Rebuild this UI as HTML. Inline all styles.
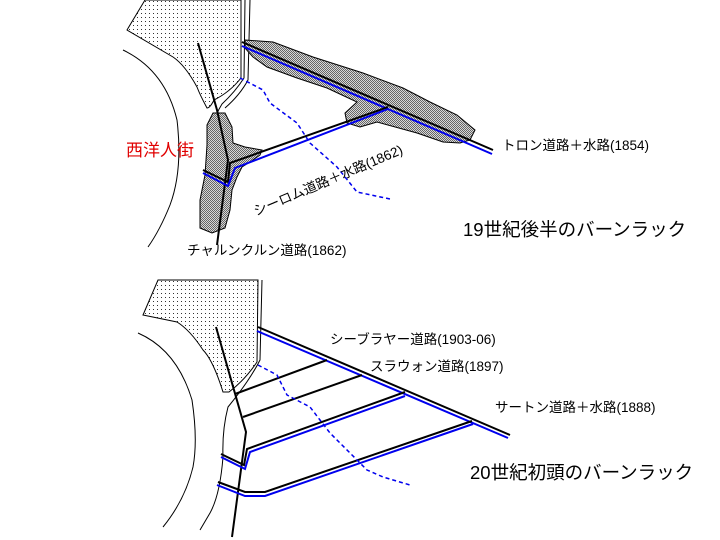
<!DOCTYPE html>
<html><head><meta charset="utf-8"><style>
html,body{margin:0;padding:0;background:#fff;}
svg{display:block;}
text{font-family:"Liberation Sans","Noto Sans CJK JP",sans-serif;}
</style></head><body>
<svg width="720" height="540" viewBox="0 0 720 540" xmlns="http://www.w3.org/2000/svg">
<defs>
<pattern id="dots" width="4" height="4" patternUnits="userSpaceOnUse"><rect x="1" y="1" width="1" height="1" fill="#333" shape-rendering="crispEdges"/></pattern>
<pattern id="hatch" width="2" height="2" patternUnits="userSpaceOnUse"><rect width="2" height="2" fill="#d8d8d8"/><rect width="1" height="1" fill="#666"/><rect x="1" y="1" width="1" height="1" fill="#666"/></pattern>
</defs>
<!-- TOP -->
<path d="M127,30 L145,0 L241,0 L241,78 Q230,92 214,100 Q210,108 207,108 Q200,95 197,87 Q185,65 173,57 Z" fill="url(#dots)" stroke="#000" stroke-width="1"/>
<path d="M123,50 Q165,70 177,120 Q183,170 170,205 Q160,230 148,247" fill="none" stroke="#000"/>
<path d="M245,0 L244,78 Q235,92 222,104 Q212,120 210,140" fill="none" stroke="#000"/>
<path d="M250,0 L248,80 Q240,95 225,108" fill="none" stroke="#000"/>
<polygon points="245,40 273,42 313,57 363,73 403,88 430,102 457,115 475,130 470,140 460,143 443,142 417,133 377,122 360,127 347,123 345,113 357,102 327,88 297,78 267,67 253,57 245,48" fill="url(#hatch)" stroke="#000"/>
<polygon points="213,113 225,113 232,127 233,143 245,147 262,150 260,155 250,162 242,167 237,177 232,190 230,210 225,228 212,233 200,228 200,200 205,175 207,145 207,125" fill="url(#hatch)" stroke="#000"/>
<polyline points="198,43 217,110 228,160 217,245" fill="none" stroke="#000" stroke-width="2"/>
<line x1="242" y1="42" x2="493" y2="150" stroke="#000" stroke-width="2"/>
<line x1="242" y1="46" x2="492" y2="154" stroke="#0000ee" stroke-width="2"/>
<polyline points="203,170 228,182 230,163 388,107" fill="none" stroke="#000" stroke-width="2"/>
<polyline points="203,173 228,186 235,168 388,109" fill="none" stroke="#0000ee" stroke-width="2"/>
<polyline points="240,78 263,90 270,103 297,123 310,143 337,167 357,192 390,199" fill="none" stroke="#0000ee" stroke-width="1.5" stroke-dasharray="4,3"/>
<text x="126" y="156" font-size="17" fill="#e00000">西洋人街</text>
<text x="502" y="150" font-size="13.5">トロン道路＋水路(1854)</text>
<text transform="translate(256,216) rotate(-23)" font-size="13.5">シーロム道路＋水路(1862)</text>
<text x="463" y="236" font-size="18.5">19世紀後半のバーンラック</text>
<text x="187" y="255" font-size="13.5">チャルンクルン道路(1862)</text>
<!-- BOTTOM -->
<path d="M143,315 L158,280 L258,280 L257,362 Q245,380 229,392 L223,392 Q213,360 203,350 Q190,330 177,322 Z" fill="url(#dots)" stroke="#000"/>
<path d="M138,333 Q177,350 192,400 Q198,440 193,467 Q185,500 163,527" fill="none" stroke="#000"/>
<path d="M262,280 L260,360 Q250,380 228,407 Q222,430 223,457 Q220,495 210,513 L200,530" fill="none" stroke="#000"/>
<polyline points="216,327 246,432 232,537" fill="none" stroke="#000" stroke-width="2"/>
<line x1="258" y1="327" x2="510" y2="435" stroke="#000" stroke-width="2"/>
<line x1="257" y1="331" x2="508" y2="438" stroke="#0000ee" stroke-width="2"/>
<line x1="235" y1="394" x2="327" y2="360" stroke="#000" stroke-width="2"/>
<line x1="243" y1="417" x2="362" y2="375" stroke="#000" stroke-width="2"/>
<polyline points="221,454 244,465 247,449 405,392" fill="none" stroke="#000" stroke-width="2"/>
<polyline points="221,457 245,469 250,452 405,396" fill="none" stroke="#0000ee" stroke-width="2"/>
<polyline points="218,482 245,492 265,492 472,421" fill="none" stroke="#000" stroke-width="2"/>
<polyline points="217,485 245,496 265,496 473,424" fill="none" stroke="#0000ee" stroke-width="2"/>
<polyline points="258,365 277,375 287,395 310,407 320,420 330,433 350,453 367,470 383,477 410,485" fill="none" stroke="#0000ee" stroke-width="1.5" stroke-dasharray="4,3"/>
<text x="330" y="344" font-size="13.5">シーブラヤー道路(1903-06)</text>
<text x="370" y="371" font-size="13.5">スラウォン道路(1897)</text>
<text x="495" y="412" font-size="13.5">サートン道路＋水路(1888)</text>
<text x="470" y="479" font-size="18.5">20世紀初頭のバーンラック</text>
</svg>
</body></html>
